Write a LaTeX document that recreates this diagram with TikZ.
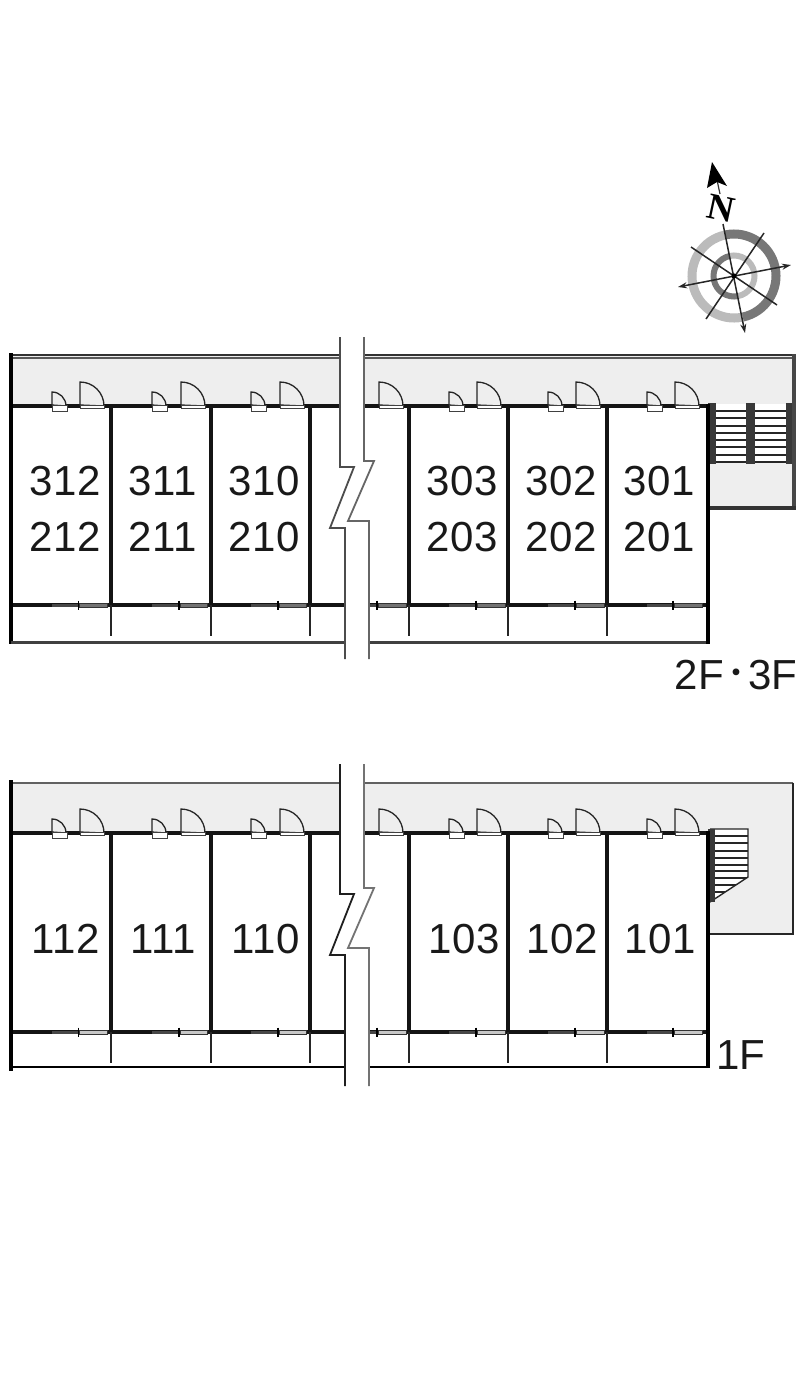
\documentclass[tikz,border=0pt]{standalone}
\usepackage{fontspec}
\setmainfont[LetterSpace=1.5]{Liberation Sans}
\newfontfamily\plainf{Liberation Sans}
\newfontfamily\cjkf{Noto Sans CJK JP}
\newfontfamily\serifb{Liberation Serif}
\usetikzlibrary{arrows.meta}
\definecolor{corr}{HTML}{EEEEEE}
\definecolor{ringd}{HTML}{777777}
\definecolor{ringl}{HTML}{BBBBBB}
\tikzset{
  wall/.style={line width=3.8pt,black!92},
  thinwall/.style={line width=2.2pt,black!85},
  doorleaf/.style={line width=1.3pt,black!85,fill=corr},
  sill/.style={line width=1pt,black!75,fill=white},
  cut/.style={line width=1.8pt,line join=miter},
  tread/.style={line width=1.8pt,black!85},
  stringer/.style={fill=black!78,draw=none},
  num/.style={font=\fontsize{42}{42}\selectfont,inner sep=0pt,text=black!90},
  lab/.style={font=\plainf\fontsize{42}{42}\selectfont,inner sep=0pt,text=black!90},
  compass/.style={line width=1.5pt,black!85},
  tipped/.style={compass,-{Stealth[length=9pt,width=6pt]}},
  bitipped/.style={compass,{Stealth[length=9pt,width=6pt]}-{Stealth[length=9pt,width=6pt]}},
}
\newcommand{\bigdoor}[1]{%
  \draw[doorleaf] (#1,405) -- (#1,382) arc[start angle=-90,end angle=0,radius=24] -- cycle;
  \draw[sill] (#1,405) rectangle (#1+24,408);
}
\newcommand{\smalldoor}[1]{%
  \draw[doorleaf] (#1,405) -- (#1,392) arc[start angle=-90,end angle=0,radius=14] -- cycle;
  \draw[sill] (#1,405) rectangle (#1+15,411);
}
\newcommand{\window}[4]{%
  \fill[black!72] (#1,603.5) rectangle (#2,607);
  \draw[line width=0.9pt,black!80,fill=#4] (#2+1,603.5) rectangle (#3,607);
  \draw[line width=1.4pt,black] (#2,600.5) -- (#2,610);
}
\newcommand{\floorunits}[1]{%
  \draw[wall] (11,406) -- (707,406);
  \draw[wall] (11,605) -- (707,605);
  \foreach \x in {111,211,310,409,508,607}{
    \draw[wall] (\x,406) -- (\x,605);
    \draw[thinwall] (\x,605) -- (\x,636);
  }
  \foreach \x in {80,181,280,379,477,576,675}{\bigdoor{\x}}
  \foreach \x in {52,152,251,449,548,647}{\smalldoor{\x}}
  \foreach \a/\b/\c in {52/78.5/107,152/179/207,251/278/306,449/476/505,548/575/604,647/673/702}{
    \window{\a}{\b}{\c}{#1}
  }
  \window{369}{377}{406}{#1}
}
\newcommand{\floorbreak}[2]{%
  \fill[white] (340,337) -- (340,467) -- (354,467) -- (330,528) -- (345,528) -- (345,659)
    -- (369,659) -- (369,521) -- (348,521) -- (374,461) -- (364,461) -- (364,337) -- cycle;
  \draw[cut,#1] (340,337) -- (340,467) -- (354,467) -- (330,528) -- (345,528) -- (345,659);
  \draw[cut,#2] (364,337) -- (364,461) -- (374,461) -- (348,521) -- (369,521) -- (369,659);
}
\begin{document}
\begin{tikzpicture}[x=1pt,y=-1pt]
\useasboundingbox (0,0) rectangle (800,1381);
\fill[white] (0,0) rectangle (800,1381);

% ---------- compass
\draw[ringd,line width=9pt] (734,276) ++(-101.9:42) arc[start angle=-101.9,end angle=78.1,radius=42];
\draw[ringl,line width=9pt] (734,276) ++(-101.9:42) arc[start angle=-101.9,end angle=-281.9,radius=42];
\draw[ringl,line width=6pt] (734,276) ++(-101.9:20.5) arc[start angle=-101.9,end angle=78.1,radius=20.5];
\draw[ringd,line width=6pt] (734,276) ++(-101.9:20.5) arc[start angle=-101.9,end angle=-281.9,radius=20.5];
\coordinate (sN) at (723,224); \coordinate (sS) at (745,333);
\coordinate (sW) at (678,287); \coordinate (sE) at (791,265);
\coordinate (dA) at (691,247); \coordinate (dB) at (777,305);
\coordinate (dC) at (764,233); \coordinate (dD) at (706,319);
\draw[tipped] (sN) -- (sS);
\draw[bitipped] (sW) -- (sE);
\draw[compass] (dA) -- (dB);
\draw[compass] (dC) -- (dD);
\fill[black] (734,276) circle (2.6);
\draw[line width=1.2pt,black!80] (717,180) -- (720,194);
\fill[black] (712,162) -- (727,186) -- (717,182) -- (707,188) -- cycle;
\node[rotate=-12,font=\serifb\bfseries\fontsize{37}{37}\selectfont,inner sep=0pt] (north) at (721,208) {N};

% ---------- upper floor
\fill[corr] (11,356) rectangle (794,406);
\fill[corr] (708,406) rectangle (793,506);
\draw[line width=2pt,black!80] (11,354.5) -- (795,354.5);
\draw[line width=1.6pt,black!65] (11,358) -- (792,358);
\draw[line width=3.4pt,black!72] (794,354) -- (794,510);
\draw[line width=4pt,black!80] (707,508) -- (795.5,508);
% stairs
\fill[white] (710,404) rectangle (792,463);
\foreach \y in {411,418,426,433,440,447,455,462}{\draw[tread] (710,\y) -- (792,\y);}
\fill[stringer] (708,403) rectangle (716,464);
\fill[stringer] (746,403) rectangle (755,464);
\fill[stringer] (786,403) rectangle (792,464);
\floorunits{black!55}
\draw[line width=4.4pt,black] (11,353) -- (11,644);
\draw[line width=3pt,black!75] (11,642) -- (708,642);
\draw[line width=4.4pt,black] (708,404) -- (708,644);
\floorbreak{black!70}{black!60}

\node[num] (n312) at (65,481) {312};
\node[num] (n311) at (163,481) {311};
\node[num] (n310) at (264,481) {310};
\node[num] (n303) at (462,481) {303};
\node[num] (n302) at (561,481) {302};
\node[num] (n301) at (659,481) {301};
\node[num] (n212) at (65,537) {212};
\node[num] (n211) at (163,537) {211};
\node[num] (n210) at (264,537) {210};
\node[num] (n203) at (462,537) {203};
\node[num] (n202) at (561,537) {202};
\node[num] (n201) at (659,537) {201};
\node[lab] (upperlabel) at (736,675) {2F\hspace{-4pt}\raisebox{5pt}{\cjkf\fontsize{32}{32}\selectfont ・}\hspace{-4pt}3F};

% ---------- ground floor
\begin{scope}[shift={(0,427)}]
\fill[corr] (11,356) rectangle (793,406);
\fill[corr] (708,406) rectangle (793,507);
\draw[line width=1.8pt,black!62] (11,356) -- (793,356);
\draw[line width=1.4pt,black!85] (793,355.5) -- (793,507) -- (708,507);
% stairs
\fill[white] (710,402) -- (748,402) -- (748,450) -- (710,475) -- cycle;
\begin{scope}
  \clip (710,402) -- (748,402) -- (748,450) -- (710,475) -- cycle;
  \foreach \y in {409,416,424,431,438,444,451,458,465,472}{\draw[tread] (710,\y) -- (748,\y);}
\end{scope}
\draw[line width=1.4pt,black!85] (710,402) -- (748,402) -- (748,450) -- (710,475);
\fill[stringer] (708,402) rectangle (715,475);
\floorunits{black!22}
\draw[line width=4.4pt,black] (11,353) -- (11,644);
\draw[line width=1.5pt,black] (11,640) -- (708,640);
\draw[line width=4.4pt,black] (708,404) -- (708,641);
\floorbreak{black!88}{black!55}
\end{scope}

\node[num] (n112) at (66,939) {112};
\node[num] (n111) at (163,939) {111};
\node[num] (n110) at (266,939) {110};
\node[num] (n103) at (464,939) {103};
\node[num] (n102) at (562,939) {102};
\node[num] (n101) at (660,939) {101};
\node[lab] (lowerlabel) at (741,1055) {1F};
\end{tikzpicture}
\end{document}
